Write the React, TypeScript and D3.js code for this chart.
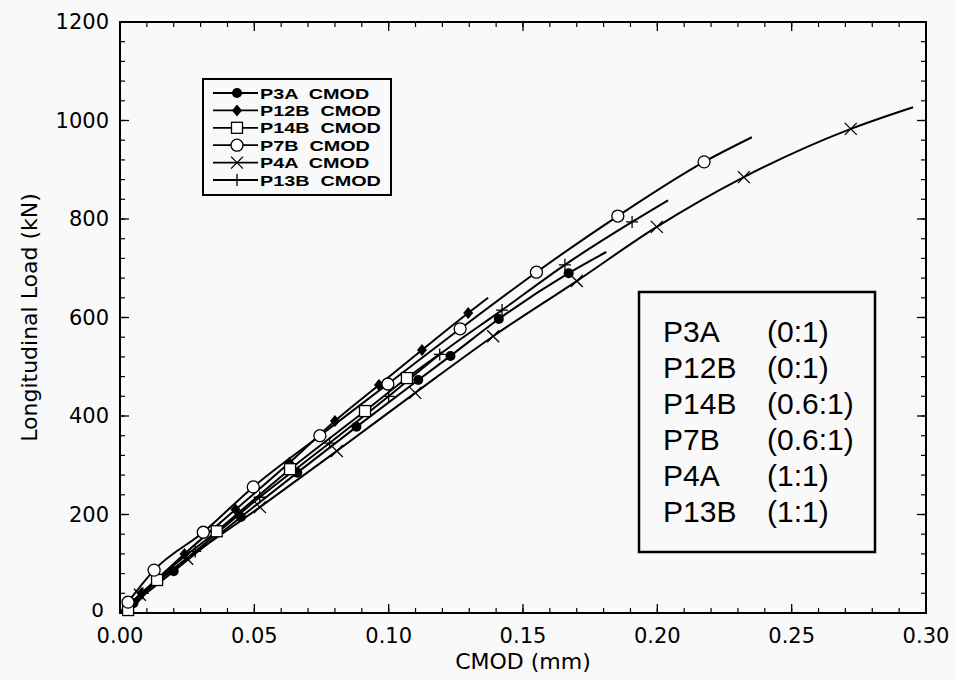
import React from "react";
import * as d3 from "d3";

type Pt = [number, number];

// CMOD (mm), load (kN)
const p3aLine: Pt[] = [[0, 0], [0.005, 20], [0.02, 85], [0.045, 195], [0.066, 285], [0.088, 378], [0.111, 473], [0.123, 522], [0.141, 597], [0.167, 690], [0.181, 733]];
const p3aMarks: Pt[] = [[0.005, 20], [0.02, 85], [0.045, 195], [0.066, 285], [0.088, 378], [0.111, 473], [0.123, 522], [0.141, 597], [0.167, 690]];

const p12bLine: Pt[] = [[0, 0], [0.008, 40], [0.024, 120], [0.043, 210], [0.063, 305], [0.08, 390], [0.0964, 463], [0.1124, 534], [0.1296, 609], [0.137, 640]];
const p12bMarks: Pt[] = [[0.008, 40], [0.024, 120], [0.043, 210], [0.063, 305], [0.08, 390], [0.0964, 463], [0.1124, 534], [0.1296, 609]];

const p14bLine: Pt[] = [[0, 0], [0.003, 6], [0.0138, 67], [0.036, 166], [0.0633, 292], [0.0912, 410], [0.1068, 477], [0.12, 530]];
const p14bMarks: Pt[] = [[0.003, 6], [0.0138, 67], [0.036, 166], [0.0633, 292], [0.0912, 410], [0.1068, 477]];

const p7bLine: Pt[] = [[0, 0], [0.003, 22], [0.0127, 87], [0.031, 164], [0.0496, 256], [0.0744, 360], [0.0997, 465], [0.1266, 577], [0.155, 692], [0.1853, 806], [0.2174, 916], [0.2352, 966]];
const p7bMarks: Pt[] = [[0.003, 22], [0.0127, 87], [0.031, 164], [0.0496, 256], [0.0744, 360], [0.0997, 465], [0.1266, 577], [0.155, 692], [0.1853, 806], [0.2174, 916]];

const p4aLine: Pt[] = [[0, 0], [0.0074, 37], [0.025, 110], [0.0521, 215], [0.0807, 329], [0.1099, 447], [0.1389, 562], [0.17, 674], [0.1998, 784], [0.2322, 885], [0.272, 983], [0.2952, 1027]];
const p4aMarks: Pt[] = [[0.0074, 37], [0.025, 110], [0.0521, 215], [0.0807, 329], [0.1099, 447], [0.1389, 562], [0.17, 674], [0.1998, 784], [0.2322, 885], [0.272, 983]];

const p13bLine: Pt[] = [[0, 0], [0.0085, 40], [0.028, 125], [0.052, 235], [0.078, 345], [0.1, 440], [0.119, 525], [0.1422, 615], [0.1656, 707], [0.1906, 794], [0.204, 838]];
const p13bMarks: Pt[] = [[0.0085, 40], [0.028, 125], [0.052, 235], [0.078, 345], [0.1, 440], [0.119, 525], [0.1422, 615], [0.1656, 707], [0.1906, 794]];

const legendNames = ["P3A", "P12B", "P14B", "P7B", "P4A", "P13B"];
const markerKinds = ["dot", "diamond", "square", "circle", "x", "plus"];
const ratioLabels = ["(0:1)", "(0:1)", "(0.6:1)", "(0.6:1)", "(1:1)", "(1:1)"];

const xTicks = [0, 0.05, 0.1, 0.15, 0.2, 0.25, 0.3];
const yTicks = [0, 200, 400, 600, 800, 1000, 1200];

const seriesLines = [p3aLine, p12bLine, p14bLine, p7bLine, p4aLine, p13bLine];
const seriesMarks = [p3aMarks, p12bMarks, p14bMarks, p7bMarks, p4aMarks, p13bMarks];

const L = 120, R = 926, T = 22, B = 613;
const x = d3.scaleLinear().domain([0, 0.3]).range([L, R]);
const y = d3.scaleLinear().domain([0, 1200]).range([B, T]);

function Marker({ kind, cx, cy }: { kind: string; cx: number; cy: number }) {
  const s = "#000";
  switch (kind) {
    case "dot":
      return <circle cx={cx} cy={cy} r={5} fill={s} />;
    case "diamond":
      return <path d={`M${cx},${cy - 6}L${cx + 5},${cy}L${cx},${cy + 6}L${cx - 5},${cy}Z`} fill={s} />;
    case "square":
      return <rect x={cx - 5.5} y={cy - 5.5} width={11} height={11} fill="#fff" stroke={s} strokeWidth={1.3} />;
    case "circle":
      return <circle cx={cx} cy={cy} r={6} fill="#fff" stroke={s} strokeWidth={1.3} />;
    case "x":
      return <path d={`M${cx - 6},${cy - 6}L${cx + 6},${cy + 6}M${cx - 6},${cy + 6}L${cx + 6},${cy - 6}`} stroke={s} strokeWidth={1.3} />;
    default:
      return <path d={`M${cx - 6},${cy}L${cx + 6},${cy}M${cx},${cy - 6}L${cx},${cy + 6}`} stroke={s} strokeWidth={1.3} />;
  }
}

export default function App() {
  const line = d3.line<Pt>().x((d) => x(d[0])).y((d) => y(d[1])).curve(d3.curveMonotoneX);
  const xMinor = d3.range(0, 0.3001, 0.01);
  const yMinor = d3.range(0, 1200.1, 40);
  const tickFont = "'DejaVu Sans', sans-serif";
  return (
    <svg width={956} height={680} style={{ position: "absolute", left: 0, top: 0 }}>
      <rect x={0} y={0} width={956} height={680} fill="#f9f9f9" />
      {/* minor ticks */}
      {xMinor.map((v, i) => (
        <g key={"xm" + i}>
          <line x1={x(v)} x2={x(v)} y1={B} y2={B - 5} stroke="#000" strokeWidth={1.2} />
          <line x1={x(v)} x2={x(v)} y1={T} y2={T + 5} stroke="#000" strokeWidth={1.2} />
        </g>
      ))}
      {yMinor.map((v, i) => (
        <g key={"ym" + i}>
          <line x1={L} x2={L + 5} y1={y(v)} y2={y(v)} stroke="#000" strokeWidth={1.2} />
          <line x1={R} x2={R - 5} y1={y(v)} y2={y(v)} stroke="#000" strokeWidth={1.2} />
        </g>
      ))}
      {xTicks.map((v, i) => (
        <g key={"xt" + i}>
          <line x1={x(v)} x2={x(v)} y1={B} y2={B - 9} stroke="#000" strokeWidth={1.3} />
          <line x1={x(v)} x2={x(v)} y1={T} y2={T + 9} stroke="#000" strokeWidth={1.3} />
          <text x={x(v)} y={643} textAnchor="middle" fontFamily={tickFont} fontSize={21}>{v.toFixed(2)}</text>
        </g>
      ))}
      {yTicks.map((v, i) => (
        <g key={"yt" + i}>
          <line x1={L} x2={L + 9} y1={y(v)} y2={y(v)} stroke="#000" strokeWidth={1.3} />
          <line x1={R} x2={R - 9} y1={y(v)} y2={y(v)} stroke="#000" strokeWidth={1.3} />
          <text x={v === 0 ? 104 : 109} y={y(v) + (v === 0 ? 4 : 7)} textAnchor="end" fontFamily={tickFont} fontSize={v === 0 ? 20 : 21}>{v}</text>
        </g>
      ))}
      <rect x={L} y={T} width={R - L} height={B - T} fill="none" stroke="#000" strokeWidth={2} />
      <text x={(L + R) / 2} y={669} textAnchor="middle" fontFamily={tickFont} fontSize={22}>CMOD (mm)</text>
      <text transform={`translate(37,${(T + B) / 2}) rotate(-90)`} textAnchor="middle" fontFamily={tickFont} fontSize={22}>Longitudinal Load (kN)</text>

      {/* series */}
      {seriesLines.map((pts, i) => (
        <path key={"l" + i} d={line(pts) || ""} fill="none" stroke="#000" strokeWidth={2} />
      ))}
      {seriesMarks.map((pts, i) => (
        <g key={"m" + i}>
          {pts.map((p, j) => (
            <Marker key={j} kind={markerKinds[i]} cx={x(p[0])} cy={y(p[1])} />
          ))}
        </g>
      ))}

      {/* legend */}
      <rect x={203} y={79} width={188} height={116} fill="#f9f9f9" stroke="#000" strokeWidth={2} />
      {legendNames.map((n, i) => {
        const cy = 93 + i * 17.4;
        return (
          <g key={"lg" + i}>
            <line x1={213} x2={258} y1={cy} y2={cy} stroke="#000" strokeWidth={1.8} />
            <Marker kind={markerKinds[i]} cx={237} cy={cy} />
            <text transform={`translate(260,${cy + 5.5}) scale(1.32,1)`} fontFamily="'Liberation Sans', Arial, sans-serif" fontWeight="bold" fontSize={15} style={{ whiteSpace: "pre" }}>
              {n + "  CMOD"}
            </text>
          </g>
        );
      })}

      {/* ratio box */}
      <rect x={639} y={292} width={236} height={260} fill="#f9f9f9" stroke="#000" strokeWidth={2.5} />
      {legendNames.map((n, i) => (
        <g key={"rb" + i}>
          <text x={663} y={342 + i * 36} fontFamily="'Liberation Sans', Arial, sans-serif" fontSize={30}>{n}</text>
          <text x={767} y={342 + i * 36} fontFamily="'Liberation Sans', Arial, sans-serif" fontSize={30}>{ratioLabels[i]}</text>
        </g>
      ))}
    </svg>
  );
}
